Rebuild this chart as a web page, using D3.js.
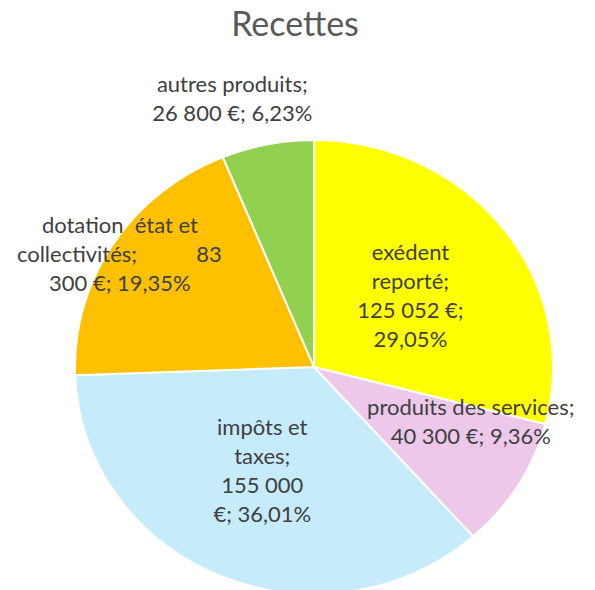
<!DOCTYPE html>
<html><head><meta charset="utf-8">
<script src="https://cdn.jsdelivr.net/npm/d3@7"></script>
<style>
html,body{margin:0;padding:0;background:#fff;}
svg{display:block;}
text{font-family:Lato,"Noto Sans",sans-serif;white-space:pre;}
</style></head><body>
<svg id="chart" width="595" height="590"></svg>
<script>
const title = "Recettes";
const categories = ["exédent reporté", "produits des services", "impôts et taxes", "dotation  état et collectivités", "autres produits"];
const values = [125052, 40300, 155000, 83300, 26800];
const colors = ["#FFFF00", "#EDC8EB", "#C6EBFA", "#FFC000", "#92D050"];

const W = 595, H = 590;
const cx = 314, cy = 367, rx = 239, ry = 227;
const svg = d3.select("#chart");

const total = d3.sum(values);
const fmtNum = v => d3.format(",")(v).replace(/,/g, " ");
const fmtPct = v => d3.format(".2f")(v * 100).replace(".", ",") + "%";

svg.append("text").attr("x", 295).attr("y", 36).attr("text-anchor", "middle")
  .attr("font-size", 34).attr("fill", "#595959").text(title);

const pie = d3.pie().sort(null).value(d => d)(values);
const arc = d3.arc().innerRadius(0).outerRadius(rx);
const g = svg.append("g").attr("transform", `translate(${cx},${cy}) scale(1,${ry/rx})`);
g.selectAll("path").data(pie).join("path")
  .attr("d", arc).attr("fill", (d, i) => colors[i])
  .attr("stroke", "#fff").attr("stroke-width", 2);

// label layout: radius fraction and angle shift (degrees) relative to slice mid-angle
const labelR = [0.51, 0.70, 0.51, 0.95, 1.225];
const labelShift = [0, -11, 2, -1.5, -5];
const lineH = 29;
const fs = 22;

function labelLines(i) {
  const v = fmtNum(values[i]) + " €", p = fmtPct(values[i] / total);
  switch (i) {
    case 0: return [["exédent"], ["reporté;"], [v + ";"], [p]];
    case 1: return [["produits des services;"], [v + "; " + p]];
    case 2: return [["impôts et"], ["taxes;"], [fmtNum(values[i])], ["€; " + p]];
    case 3: {
      const parts = v.split(" ");
      return [["dotation  état et"], ["collectivités;", parts[0]], [parts.slice(1).join(" ") + "; " + p]];
    }
    case 4: return [["autres produits;"], [v + "; " + p]];
  }
}

pie.forEach((d, i) => {
  const a = (d.startAngle + d.endAngle) / 2 + labelShift[i] * Math.PI / 180;
  const x = cx + Math.sin(a) * rx * labelR[i];
  const y = cy - Math.cos(a) * ry * labelR[i];
  const lines = labelLines(i);
  const y0 = y - (lines.length - 1) * lineH / 2;
  const t = svg.append("g");
  lines.forEach((ln, k) => {
    const yy = y0 + k * lineH + 7;
    if (ln.length === 1) {
      t.append("text").attr("x", x).attr("y", yy).attr("text-anchor", "middle")
        .attr("font-size", fs).attr("fill", "#404040").text(ln[0]);
    } else {
      t.append("text").attr("x", x - 103).attr("y", yy).attr("text-anchor", "start")
        .attr("font-size", fs).attr("fill", "#404040").text(ln[0]);
      t.append("text").attr("x", x + 102).attr("y", yy).attr("text-anchor", "end")
        .attr("font-size", fs).attr("fill", "#404040").text(ln[1]);
    }
  });
});
</script>
</body></html>
